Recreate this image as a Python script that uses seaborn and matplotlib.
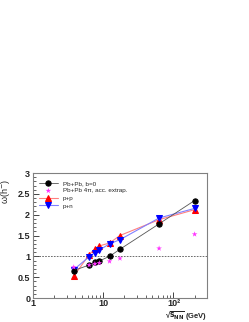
import numpy as np
import pandas as pd
import matplotlib
matplotlib.use("Agg")
import matplotlib.pyplot as plt
import seaborn as sns

energies = [3.8, 6.3, 7.6, 8.8, 12.3, 17.3, 62.4, 200.0]
pbpb_b0 = [0.66, 0.79, 0.86, 0.89, 1.00, 1.17, 1.78, 2.34]
pbpb_4pi = [0.74, 0.79, 0.82, 0.84, 0.88, 0.95, 1.19, 1.53]
pp = [0.52, 1.04, 1.18, 1.25, 1.32, 1.50, 1.88, 2.12]
pn = [0.68, 0.99, 1.09, 1.15, 1.30, 1.40, 1.92, 2.15]

sns.set_style("ticks")
plt.rcParams['font.family'] = ['Liberation Sans', 'DejaVu Sans']

fig = plt.figure(figsize=(2.49, 3.22), dpi=100)
ax = fig.add_axes([33/249, 1-298/322, (207-33)/249, (298-173)/322])

df = pd.DataFrame({"E": energies, "b0": pbpb_b0, "s4": pbpb_4pi, "pp": pp, "pn": pn})

ms = 3.8
ax.axhline(1.0, color="#555555", lw=0.6, ls=(0, (2, 1.5)), zorder=1)
sns.lineplot(data=df, x="E", y="b0", ax=ax, color="#555555", lw=0.6, marker="o",
             markersize=ms, markerfacecolor="black", markeredgecolor="black",
             label="Pb+Pb, b=0", zorder=4)
sns.scatterplot(data=df, x="E", y="s4", ax=ax, color="#ff33ff", marker="*", s=18,
                edgecolor="none", label="Pb+Pb 4π, acc. extrap.", zorder=5)
sns.lineplot(data=df, x="E", y="pp", ax=ax, color="#ff8080", lw=0.8, marker="^",
             markersize=ms, markerfacecolor="red", markeredgecolor="red",
             label="p+p", zorder=3)
sns.lineplot(data=df, x="E", y="pn", ax=ax, color="#8080ff", lw=0.8, marker="v",
             markersize=ms, markerfacecolor="blue", markeredgecolor="blue",
             label="p+n", zorder=3)

ax.set_xscale("log")
ax.set_xlim(1, 300)
ax.set_ylim(0, 3)
ax.set_yticks([0, 0.5, 1, 1.5, 2, 2.5, 3])
ax.set_yticklabels(["0", "0.5", "1", "1.5", "2", "2.5", "3"])
ax.set_xticks([1, 10, 100])
ax.set_xticklabels(["1", "10", "10²"])
ax.yaxis.set_minor_locator(matplotlib.ticker.MultipleLocator(0.1))
ax.tick_params(direction="in", labelsize=6.5, length=4, width=0.6, pad=2)
ax.tick_params(axis="x", pad=1.0)
ax.tick_params(which="minor", direction="in", length=2, width=0.5)
for lab in ax.get_xticklabels() + ax.get_yticklabels():
    lab.set_fontweight("bold")
for s in ["top", "right"]:
    ax.spines[s].set_visible(True)
for s in ax.spines.values():
    s.set_color("#808080")
    s.set_linewidth(0.8)

ax.set_xlabel("√" + r"$\overline{\mathbf{s}_{\mathbf{NN}}}$ (GeV)", fontsize=5.5,
              fontweight="bold", ha="right", va="bottom")
ax.xaxis.set_label_coords(1.0, -0.19)
ax.set_ylabel(r"ω(h$^{-}$)", fontsize=6.5)
ax.yaxis.set_label_coords(-0.12, 0.85)

leg = ax.legend(loc="upper left", bbox_to_anchor=(0.02, 0.96), frameon=False,
                fontsize=4.5, handlelength=3, labelspacing=0.35, borderaxespad=0)

fig.savefig("out.png", dpi=100)
